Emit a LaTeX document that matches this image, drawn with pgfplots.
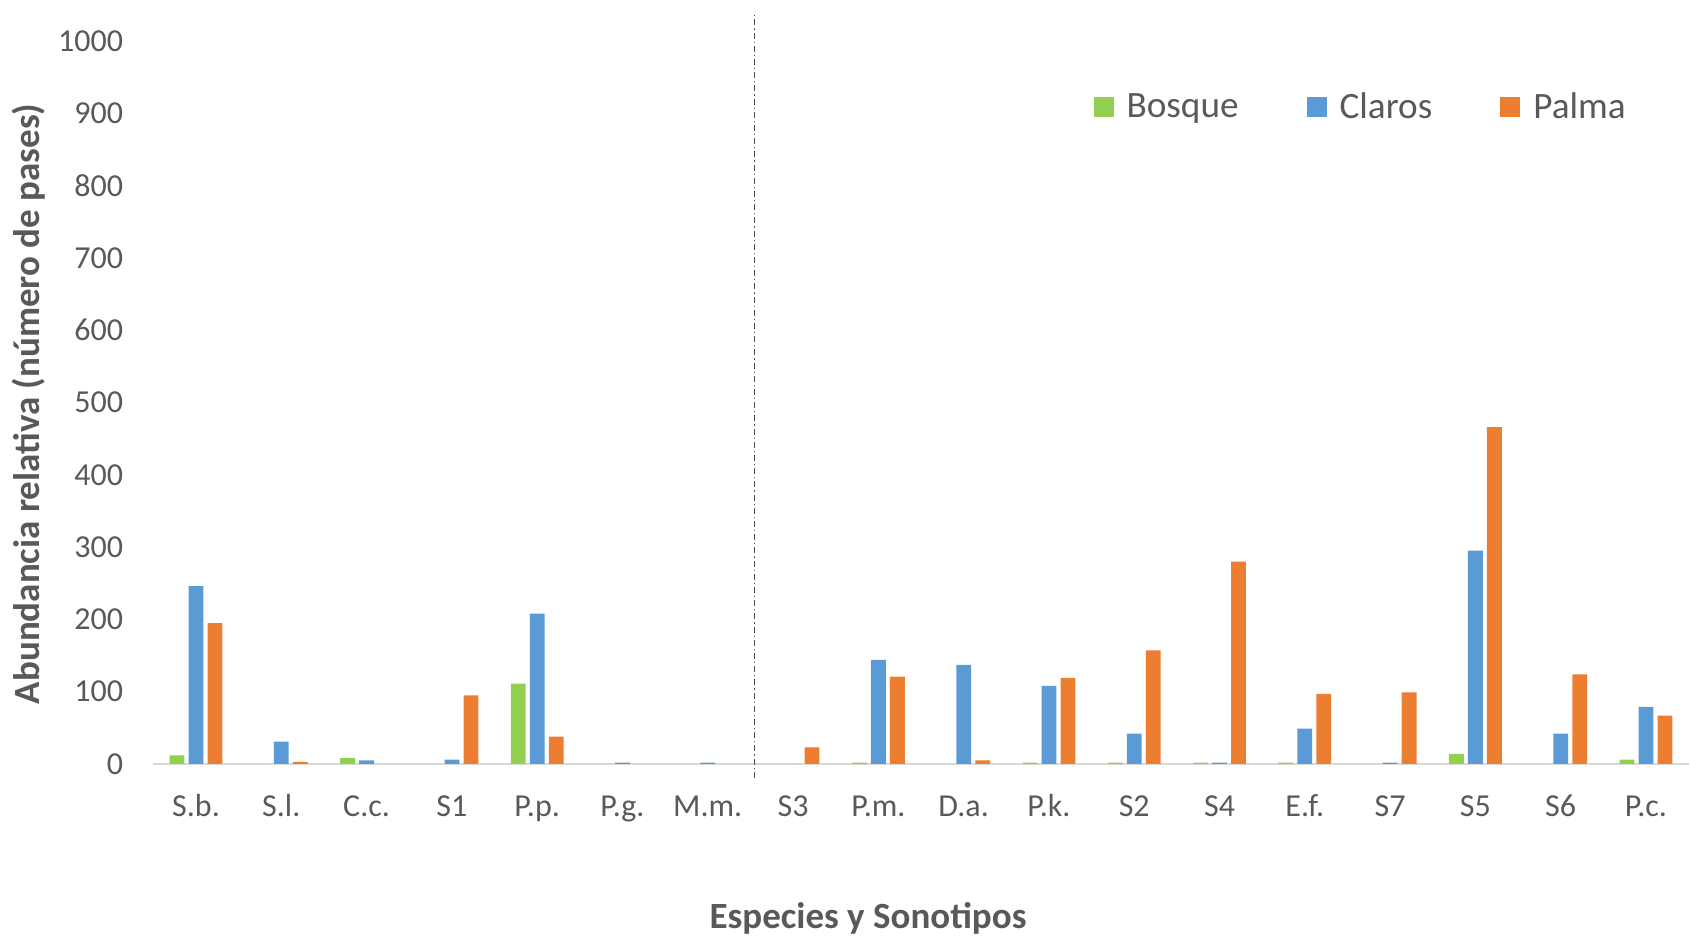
\documentclass[border=0pt]{standalone}
\usepackage{pgfplots}
\pgfplotsset{compat=1.18}
\usepackage{pgfplotstable}
\usepackage{fontspec}
\setmainfont{Carlito}

\definecolor{bosque}{HTML}{92D050}
\definecolor{claros}{HTML}{5B9BD5}
\definecolor{palma}{HTML}{ED7D31}
\definecolor{txt}{HTML}{595959}
\definecolor{base}{HTML}{D9D9D9}

% Relative abundance (number of passes) per species / sonotype and habitat
\pgfplotstableread{
idx name  Bosque Claros Palma
0   S.b.  12     246    195
1   S.l.  0      31     3
2   C.c.  8      5      0
3   S1    0      6      95
4   P.p.  111    208    38
5   P.g.  0      2      0
6   M.m.  0      2      0
7   S3    0      0      23
8   P.m.  2      144    121
9   D.a.  0      137    5
10  P.k.  2      108    119
11  S2    2      42     157
12  S4    2      2      280
13  E.f.  2      49     97
14  S7    0      2      99
15  S5    14     295    466
16  S6    0      42     124
17  P.c.  6      79     67
}\datatable

\begin{document}
\begin{tikzpicture}
\useasboundingbox (-76.7pt,-88pt) rectangle (768.3pt,382pt);
\begin{axis}[
  scale only axis,
  width=767.6pt, height=361.5pt,
  ybar=2.1pt, bar width=7.4pt,
  xmin=-0.5, xmax=17.5,
  ymin=0, ymax=1000,
  ytick={0,100,...,1000},
  xtick=data,
  xticklabels={S.b.,S.l.,C.c.,S1,P.p.,P.g.,M.m.,S3,P.m.,D.a.,P.k.,S2,S4,E.f.,S7,S5,S6,P.c.},
  axis y line=left,
  y axis line style={draw=none},
  axis x line=bottom,
  x axis line style={draw=base, line width=1.2pt, -},
  major tick length=0pt,
  /pgf/number format/assume math mode=true,
  /pgf/number format/1000 sep={},
  tick label style={font=\fontsize{16}{19}\selectfont, text=txt},
  xticklabel style={anchor=base, yshift=-26.5pt, inner sep=0pt},
  yticklabel style={anchor=east, inner sep=0pt, xshift=-15pt},
  clip=false,
  legend columns=3,
  legend style={draw=none, fill=none, at={(0.787,0.909)}, anchor=center,
    font=\fontsize{18.6}{22}\selectfont, text=txt,
    /tikz/every odd column/.append style={column sep=4.5pt},
    /tikz/every even column/.append style={column sep=32pt}},
]
\addplot[fill=bosque, draw=none,
  legend image code/.code={\fill[bosque] (0pt,-5pt) rectangle (10pt,5pt);}]
  table[x=idx, y=Bosque] {\datatable};
\addlegendentry{Bosque}
\addplot[fill=claros, draw=none,
  legend image code/.code={\fill[claros] (0pt,-5pt) rectangle (10pt,5pt);}]
  table[x=idx, y=Claros] {\datatable};
\addlegendentry{Claros}
\addplot[fill=palma, draw=none,
  legend image code/.code={\fill[palma] (0pt,-5pt) rectangle (10pt,5pt);}]
  table[x=idx, y=Palma] {\datatable};
\addlegendentry{Palma}
% separator between species and sonotypes
\draw[black!70, line width=0.5pt, dash pattern=on 3pt off 1.5pt on 0.6pt off 1.5pt]
  (axis cs:6.55,-19) -- (axis cs:6.55,1039);
% axis titles
\node[font=\bfseries\fontsize{18.5}{22}\selectfont, text=txt, anchor=center, yshift=-77pt]
  at (axis description cs:0.4655,0) {Especies y Sonotipos};
\node[font=\bfseries\fontsize{18.5}{22}\selectfont, text=txt, anchor=center, xshift=-62.2pt, rotate=90]
  at (axis description cs:0,0.498) {Abundancia relativa (número de pases)};
\end{axis}
\end{tikzpicture}
\end{document}
